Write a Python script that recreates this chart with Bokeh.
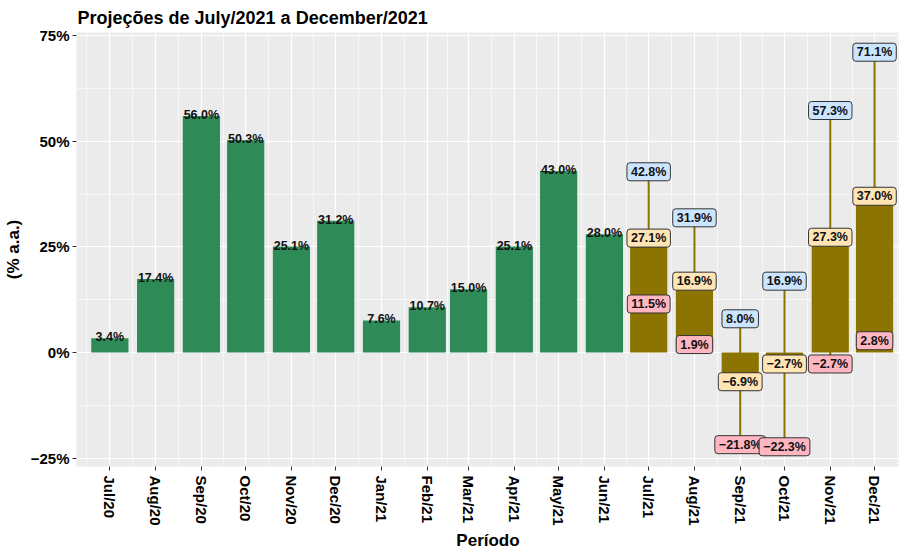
import pandas as pd
from bokeh.plotting import figure
from bokeh.models import (ColumnDataSource, Range1d, FixedTicker, DatetimeTickFormatter)
from bokeh.core.properties import value
from bokeh.embed import file_html
from bokeh.resources import INLINE

# ---------------- data ----------------
hist_months = ["2020-07-01", "2020-08-01", "2020-09-01", "2020-10-01", "2020-11-01", "2020-12-01",
               "2021-01-01", "2021-02-01", "2021-03-01", "2021-04-01", "2021-05-01", "2021-06-01"]
hist_values = [3.4, 17.4, 56.0, 50.3, 25.1, 31.2, 7.6, 10.7, 15.0, 25.1, 43.0, 28.0]

proj_months = ["2021-07-01", "2021-08-01", "2021-09-01", "2021-10-01", "2021-11-01", "2021-12-01"]
proj_median = [27.1, 16.9, -6.9, -2.7, 27.3, 37.0]
proj_upper = [42.8, 31.9, 8.0, 16.9, 57.3, 71.1]
proj_lower = [11.5, 1.9, -21.8, -22.3, -2.7, 2.8]

y_ticks = [-25, 0, 25, 50, 75]
y_minor = [-12.5, 12.5, 37.5, 62.5]

FONT = "Liberation Sans"
GREEN = "#2E8B57"
OLIVE = "#8B7500"
BLUE_BOX = "#CCE5FF"
YELLOW_BOX = "#FFE4B5"
PINK_BOX = "#FFB6C1"


def pct(v):
    s = f"{abs(v):.1f}%"
    return ("\u2212" + s) if v < 0 else s


hist_dates = pd.to_datetime(hist_months)
proj_dates = pd.to_datetime(proj_months)
all_dates = hist_dates.append(proj_dates)

day = pd.Timedelta(days=1)
bar_w = 25.2 * 86400000  # ms

hist_src = ColumnDataSource(dict(x=hist_dates, top=hist_values,
                                 label=[pct(v) for v in hist_values]))
proj_src = ColumnDataSource(dict(x=proj_dates, med=proj_median, up=proj_upper, lo=proj_lower,
                                 med_l=[pct(v) for v in proj_median],
                                 up_l=[pct(v) for v in proj_upper],
                                 lo_l=[pct(v) for v in proj_lower]))

p = figure(frame_width=823, frame_height=434, x_axis_type="datetime",
           output_backend="svg", toolbar_location=None,
           x_range=Range1d(all_dates[0] - 22.6 * day, all_dates[-1] + 16.9 * day),
           y_range=Range1d(-26.97, 75.77),
           min_border_left=68, min_border_right=0, min_border_top=0, min_border_bottom=0)

p.background_fill_color = "#EBEBEB"
p.border_fill_color = "white"
p.outline_line_color = None

# title
p.title.text = "Projeções de July/2021 a December/2021"
p.title.text_font = FONT
p.title.text_font_size = "18px"
p.title.text_font_style = "bold"
p.title.text_color = "black"
p.title.offset = 1
p.title.standoff = 10

# grids
p.xgrid.ticker = FixedTicker(ticks=[d.value // 10**6 for d in all_dates],
                             minor_ticks=[(all_dates[i].value + all_dates[i + 1].value) // 2 // 10**6
                                          for i in range(len(all_dates) - 1)]
                             + [(all_dates[0] - 15.5 * day).value // 10**6,
                                (all_dates[-1] + 15.5 * day).value // 10**6])
p.ygrid.ticker = FixedTicker(ticks=y_ticks, minor_ticks=y_minor)
for g in (p.xgrid, p.ygrid):
    g.grid_line_color = "white"
    g.grid_line_width = 1.2
    g.minor_grid_line_color = "white"
    g.minor_grid_line_width = 0.6

# axes
p.xaxis.ticker = FixedTicker(ticks=[d.value // 10**6 for d in all_dates])
fmt = "%b/%y"
p.xaxis.formatter = DatetimeTickFormatter(milliseconds=fmt, seconds=fmt, minsec=fmt, minutes=fmt,
                                          hourmin=fmt, hours=fmt, days=fmt, months=fmt, years=fmt)
p.xaxis.major_label_orientation = "vertical"
p.yaxis.ticker = FixedTicker(ticks=y_ticks)
p.yaxis.major_label_overrides = {v: (pct(v).replace(".0", "")) for v in y_ticks}

for ax in (p.xaxis, p.yaxis):
    ax.axis_line_color = None
    ax.major_tick_line_color = "#333333"
    ax.major_tick_in = 0
    ax.major_tick_out = 4
    ax.minor_tick_line_color = None
    ax.major_label_text_font = FONT
    ax.major_label_text_font_style = "bold"
    ax.major_label_text_font_size = "15px"
    ax.major_label_text_color = "black"
    ax.axis_label_text_font = FONT
    ax.axis_label_text_font_style = "bold"
    ax.axis_label_text_font_size = "17px"
    ax.axis_label_text_color = "black"

p.xaxis.major_label_standoff = 5
p.xaxis.axis_label = "Período"
p.xaxis.axis_label_standoff = 2
p.yaxis.major_label_standoff = 3
p.yaxis.axis_label = "(% a.a.)"
p.yaxis.axis_label_standoff = 5

# historical bars
p.vbar(x="x", top="top", bottom=0, width=bar_w, source=hist_src,
       fill_color=GREEN, line_color=None)
p.text(x="x", y="top", text="label", source=hist_src,
       text_font=value(FONT), text_font_style="bold", text_font_size="12.5px",
       text_color="#111111", text_align="center", text_baseline="alphabetic", y_offset=-1)

# projection bars + ranges
p.segment(x0="x", y0="lo", x1="x", y1="up", source=proj_src, line_color=OLIVE, line_width=2)
p.vbar(x="x", top="med", bottom=0, width=bar_w, source=proj_src,
       fill_color=OLIVE, line_color=None)

for col, fill in (("up", BLUE_BOX), ("lo", PINK_BOX), ("med", YELLOW_BOX)):
    p.text(x="x", y=col, text=col + "_l", source=proj_src,
           text_font=value(FONT), text_font_style="bold", text_font_size="12.5px",
           text_color="#111111", text_align="center", text_baseline="middle",
           background_fill_color=fill, border_line_color="#333333", border_line_width=1,
           padding=(4, 2), border_radius=3)

open("out.html", "w").write(file_html(p, INLINE))
